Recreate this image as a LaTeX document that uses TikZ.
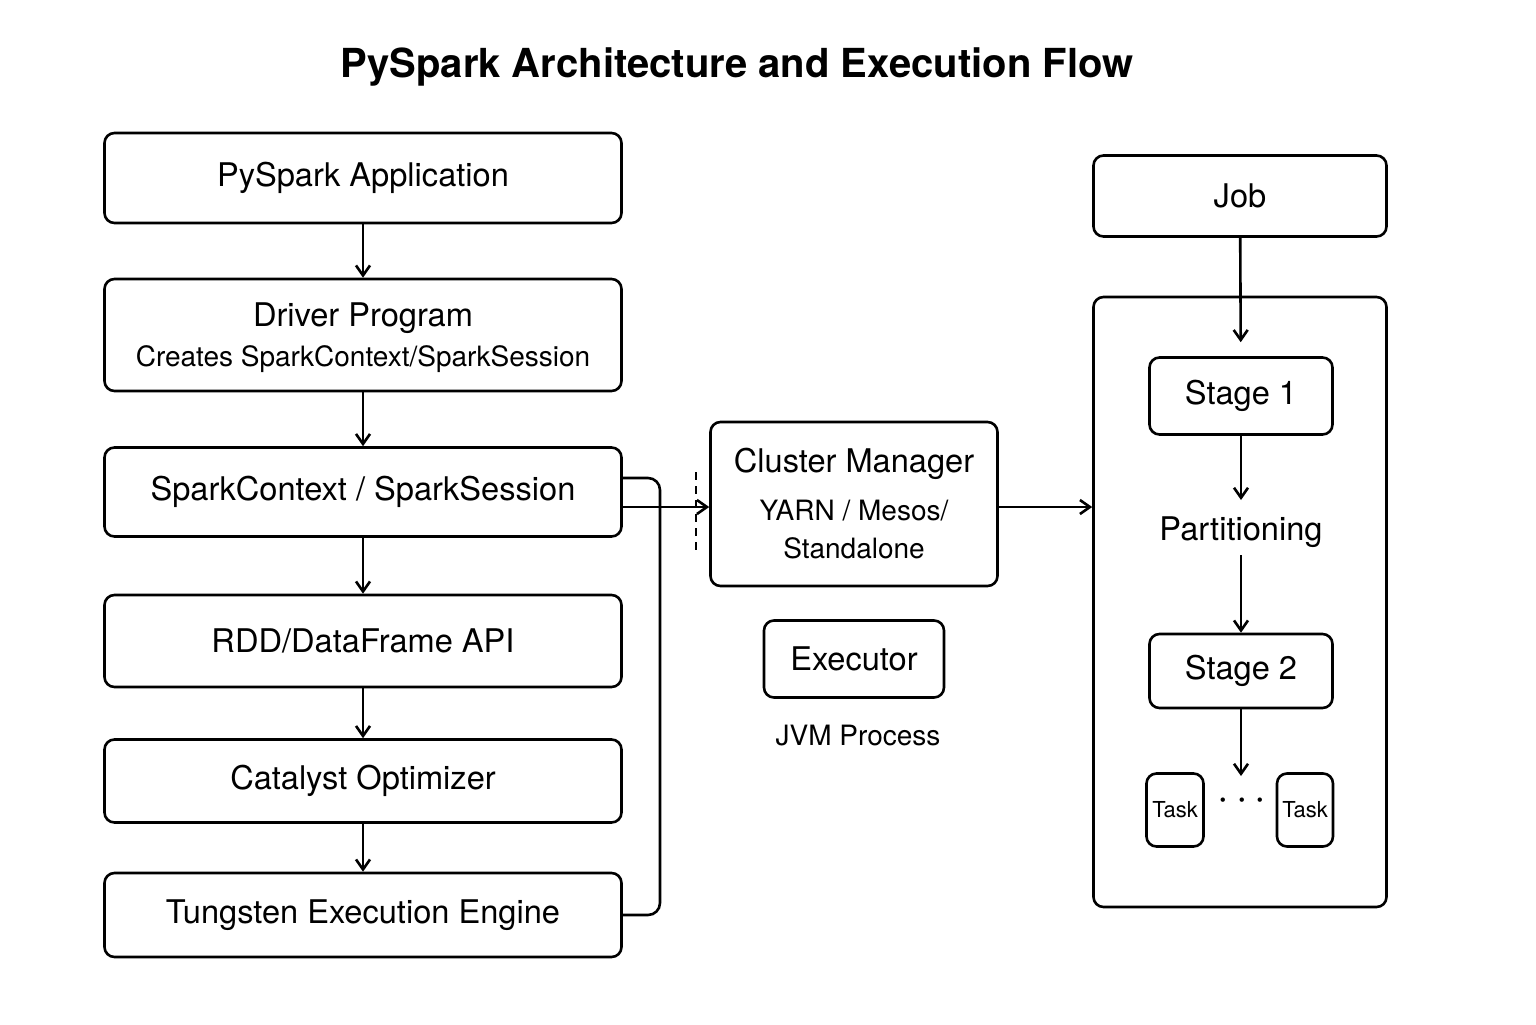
\documentclass[tikz,border=0pt]{standalone}
\usepackage{fontspec}
\setmainfont{TeX Gyre Heros}
\usetikzlibrary{arrows.meta}

\newcommand{\subsize}{\fontsize{14}{17.5}\selectfont}

\begin{document}
\begin{tikzpicture}[
		x=0.5pt, y=-0.5pt,
		line width=1.3pt,
		every node/.style = {align=center, font=\fontsize{16.3}{19}\selectfont},
		box/.style = {shape=rectangle, rounded corners=5pt, draw,
			minimum width=258.5pt},
		smallbox/.style = {shape=rectangle, rounded corners=5pt, draw},
		arrow/.style = {-{Straight Barb[length=5pt,width=7pt]}},
		subtext/.style = {font=\subsize}]
	\useasboundingbox (0,0) rectangle (1536,1024);
	\node[font=\fontsize{20}{24}\bfseries\selectfont] (title) at (737,67)
		{PySpark Architecture and Execution Flow};

	% left column
	\node[box, minimum height=45pt] (app) at (363,178) {PySpark Application};
	\node[box, minimum height=56pt, text depth=0pt] (driver) at (363,335)
		{Driver Program\\[1pt]\subsize Creates SparkContext/SparkSession};
	\node[box, minimum height=44.5pt] (context) at (363,492) {SparkContext / SparkSession};
	\node[box, minimum height=46pt] (api) at (363,641) {RDD/DataFrame API};
	\node[box, minimum height=41.5pt] (catalyst) at (363,781) {Catalyst Optimizer};
	\node[box, minimum height=42pt] (tungsten) at (363,915) {Tungsten Execution Engine};

	\draw[arrow] (app) -- (driver);
	\draw[arrow] (driver) -- (context);
	\draw[arrow] (context) -- (api);
	\draw[arrow] (api) -- (catalyst);
	\draw[arrow] (catalyst) -- (tungsten);
	\draw[rounded corners=6pt] ([yshift=7pt]context.east) -| (660,700) |- (tungsten.east);

	% cluster manager and executor
	\node[smallbox, minimum width=143.5pt, minimum height=82pt] (manager) at (854,504)
		{Cluster Manager\\[5pt]\subsize YARN / Mesos/\\\subsize Standalone};
	\coordinate (dashtop) at (696,472);
	\coordinate (dashbot) at (696,550);
	\draw[line width=1pt, dash pattern=on 4pt off 3pt] (dashtop) -- (dashbot);
	\draw[arrow] ([yshift=-7.5pt]context.east) -- ([yshift=-1.5pt]manager.west);
	\node[smallbox, minimum width=90pt, minimum height=38.5pt] (executor) at (854,659) {Executor};
	\node[subtext] (jvm) at (858,736) {JVM Process};

	% job and stages
	\node[smallbox, minimum width=146.5pt, minimum height=40.5pt] (job) at (1240,196) {Job};
	\node[smallbox, minimum width=146.5pt, minimum height=305pt] (stages) at (1240,602) {};
	\draw[arrow] (manager.east |- 0,507) -- (stages.west |- 0,507);
	\node[smallbox, minimum width=91.5pt, minimum height=38.5pt] (stage1) at (1241,396) {Stage 1};
	\node (partition) at (1241,532) {Partitioning};
	\node[smallbox, minimum width=91.5pt, minimum height=37pt] (stage2) at (1241,671) {Stage 2};
	\node[smallbox, minimum width=28.5pt, minimum height=36.5pt, inner sep=1pt,
		font=\fontsize{11}{13}\selectfont] (task1) at (1175,810) {Task};
	\node[smallbox, minimum width=28pt, minimum height=36.5pt, inner sep=1pt,
		font=\fontsize{11}{13}\selectfont] (task2) at (1305,810) {Task};
	\node[font=\fontsize{22}{24}\selectfont] (dots) at (1242,801) {$\cdots$};

	\draw[arrow, shorten >=7pt] (job) -- (stage1);
	\draw[arrow] (stage1) -- (1241,500);
	\draw[arrow] (1241,555) -- (stage2);
	\draw[arrow] (stage2) -- (1241,776);
\end{tikzpicture}
\end{document}
